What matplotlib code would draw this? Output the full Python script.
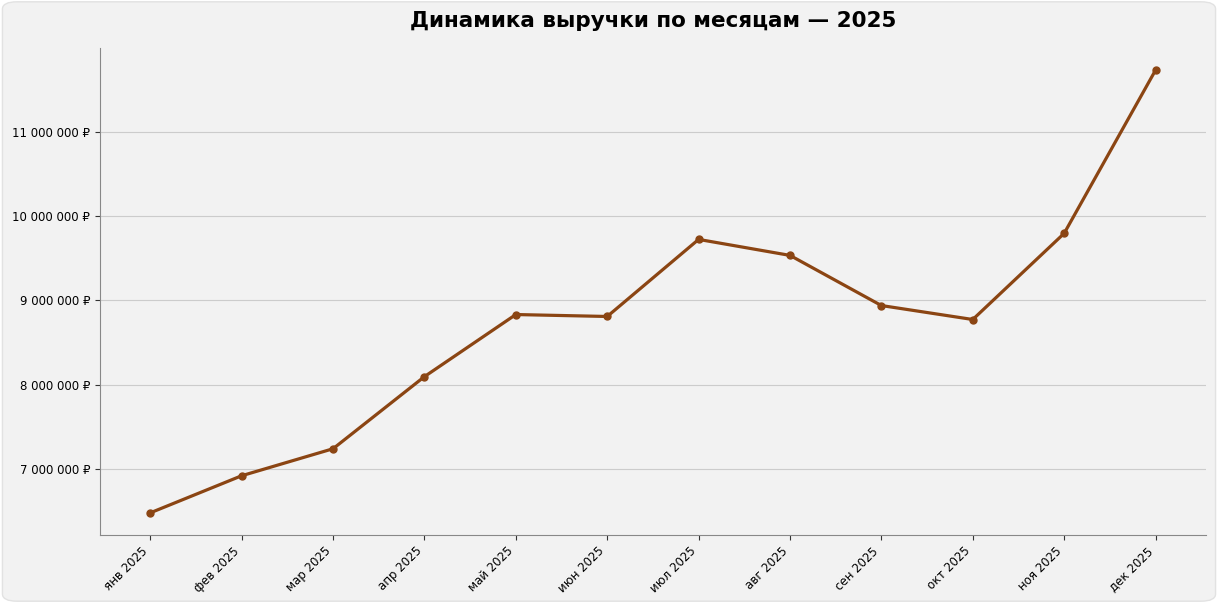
import matplotlib
matplotlib.use("Agg")
import matplotlib.pyplot as plt
from matplotlib.patches import FancyBboxPatch
from matplotlib.ticker import FuncFormatter

months = ["янв 2025", "фев 2025", "мар 2025", "апр 2025", "май 2025", "июн 2025",
          "июл 2025", "авг 2025", "сен 2025", "окт 2025", "ноя 2025", "дек 2025"]
revenue = [6476000, 6917000, 7238000, 8095000, 8833000, 8810000,
           9726000, 9536000, 8940000, 8774000, 9798000, 11738000]
yticks = [7000000, 8000000, 9000000, 10000000, 11000000]

BG = "#f2f2f2"
fig = plt.figure(figsize=(12.18, 6.03), dpi=100, facecolor="white")
fig.patches.append(FancyBboxPatch((0.002, 0.003), 0.996, 0.994,
                                  boxstyle="round,pad=0,rounding_size=0.012",
                                  transform=fig.transFigure, facecolor=BG,
                                  edgecolor="#e2e2e2", linewidth=1, zorder=-10))
ax = fig.add_axes([0.0821, 0.1128, 0.9079, 0.8076])
ax.set_facecolor(BG)

x = list(range(len(months)))
ax.plot(x, revenue, color="#8B4513", linewidth=2.3, marker="o", markersize=5, zorder=3)

ax.set_xticks(x)
ax.set_xticklabels(months, rotation=45, ha="right", fontsize=8.5)
ax.set_yticks(yticks)
ax.yaxis.set_major_formatter(FuncFormatter(lambda v, p: f"{int(v):,}".replace(",", " ") + " ₽"))
ax.tick_params(axis="y", labelsize=8.5)
ax.grid(axis="y", color="#cccccc", linewidth=0.8)
ax.set_axisbelow(True)
for s in ["top", "right"]:
    ax.spines[s].set_visible(False)
for s in ["left", "bottom"]:
    ax.spines[s].set_color("#888888")
ax.tick_params(colors="#333333", labelcolor="black")

fig.text(0.536, 0.965, "Динамика выручки по месяцам — 2025", ha="center", va="center",
         fontsize=15.5, fontweight="bold")

fig.savefig("out.png", dpi=100, facecolor=fig.get_facecolor())
